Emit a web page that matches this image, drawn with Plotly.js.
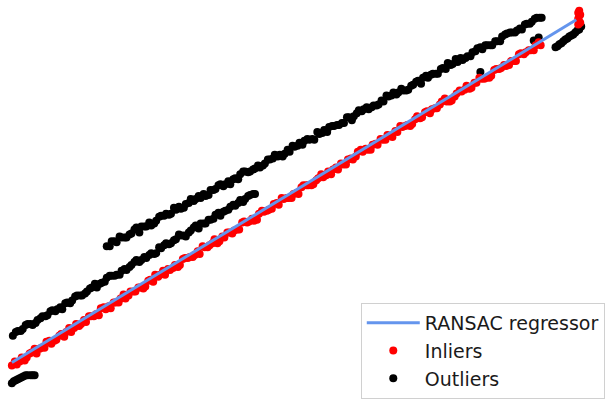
<!DOCTYPE html>
<html>
<head>
<meta charset="utf-8">
<script src="https://cdn.plot.ly/plotly-3.0.1.min.js"></script>
<style>html,body{margin:0;padding:0;background:#fff;}#chart{width:605px;height:399px;}</style>
</head>
<body>
<div id="chart"></div>
<script>
// Inliers (red)
const inlierX = [12,17,22,27,32,37,42,47,52,57,62,67,72,77,82,87,92,97,102,107,112,117,122,127,132,137,142,147,152,157,162,167,172,177,182,187,192,197,202,207,212,217,222,227,232,237,242,247,252,257,262,267,272,277,282,287,292,297,302,307,312,317,322,327,332,337,342,347,352,357,362,367,372,377,382,387,392,397,402,407,412,417,422,427,432,437,442,447,452,457,462,467,472,477,482,487,492,497,502,507,512,517,522,527,532,537,542,547,
15,20,25,30,35,40,45,50,55,60,65,70,75,80,85,90,95,100,105,110,115,120,125,130,135,140,145,150,155,160,165,170,175,180,185,190,195,200,205,210,215,220,225,230,235,240,245,250,255,260,265,270,275,280,285,290,295,300,305,310,315,320,325,330,335,340,345,350,355,360,365,370,375,380,385,390,395,400,405,410,415,420,425,430,435,440,445,450,455,460,465,470,475,480,485,490,495,500,505,510,515,520,525,530,535,540,545,
585,586,585,586,585,586,587,587];
const inlierY = [28,29,36,36,41,40,46,52,50,54,60,62,62,70,70,72,78,80,86,85,86,92,96,96,103,103,107,108,115,120,120,120,125,130,130,137,138,140,141,148,150,156,154,158,163,165,166,174,174,175,182,184,186,192,191,197,198,202,202,211,211,212,218,219,225,227,227,232,237,237,245,245,247,252,252,257,262,260,265,270,272,273,281,280,286,288,289,296,296,297,304,306,312,310,315,319,320,322,329,330,332,337,337,345,346,348,353,353,
32,32,33,40,45,45,46,53,53,58,57,66,66,68,74,78,78,79,87,88,92,92,100,99,103,107,106,114,113,118,124,126,127,128,136,137,138,144,149,148,152,152,159,163,162,166,173,173,177,176,185,185,187,193,198,198,198,203,209,211,211,216,222,221,222,229,233,232,238,240,247,248,247,253,258,257,261,266,271,271,271,278,279,285,284,289,293,299,296,301,307,308,309,315,320,319,320,328,329,333,333,337,344,344,348,348,356,
374,377,380,383,386,388,376,384];

// Outliers (black): upper band, middle band, small groups
const outlierX = [108,113,118,123,128,133,138,143,148,153,158,163,168,173,178,183,188,193,198,203,208,213,218,223,228,233,238,243,248,253,258,263,268,273,278,283,288,293,298,303,308,313,318,323,328,333,338,343,348,353,358,363,368,373,378,383,388,393,398,403,408,413,418,423,428,433,438,443,448,453,458,463,468,473,478,483,488,493,498,503,508,513,518,523,528,533,538,543,548,
111,116,121,126,131,136,141,146,151,156,161,166,171,176,181,186,191,196,201,206,211,216,221,226,231,236,241,246,251,256,261,266,271,276,281,286,291,296,301,306,311,316,321,326,331,336,341,346,351,356,361,366,371,376,381,386,391,396,401,406,411,416,421,426,431,436,441,446,451,456,461,466,471,476,481,486,491,496,501,506,511,516,521,526,531,536,541,546,
13,18,23,28,33,38,43,48,53,58,63,68,73,78,83,88,93,98,103,108,113,118,123,128,133,138,143,148,153,158,163,168,173,178,183,188,193,198,203,208,213,218,223,228,233,238,243,248,253,258,
16,21,26,31,36,41,46,51,56,61,66,71,76,81,86,91,96,101,106,111,116,121,126,131,136,141,146,151,156,161,166,171,176,181,186,191,196,201,206,211,216,221,226,231,236,241,246,251,256,
12,14,16,18,20,22,24,26,28,31,33,35,
562,564,566,568,570,572,574,576,578,580,582,584,586,588,
486,540,545];
const outlierY = [149,154,153,158,158,162,168,169,169,170,175,180,182,182,186,187,192,197,197,198,200,206,207,212,212,212,218,222,225,225,228,229,233,237,242,242,243,245,250,254,256,257,257,263,267,270,271,272,274,280,281,287,288,288,292,293,296,301,305,305,307,308,313,317,320,320,324,324,330,335,334,336,338,342,346,350,349,353,353,357,362,365,366,368,369,375,377,381,381,
149,154,159,158,161,166,163,169,173,172,179,180,181,188,189,188,193,195,200,202,201,206,211,210,215,217,217,225,224,227,231,231,237,238,240,240,247,251,251,252,258,258,265,264,265,271,272,274,280,277,284,286,290,290,292,297,302,302,303,309,307,312,316,314,322,323,324,329,329,333,339,340,340,342,347,351,353,353,357,357,364,366,366,370,374,375,380,381,
58,63,65,70,69,74,78,79,84,85,85,92,94,99,99,103,107,107,112,117,119,120,124,125,130,135,135,137,142,142,147,152,152,156,160,159,165,170,172,172,176,181,180,185,189,190,196,197,201,202,
62,63,69,70,71,76,78,83,83,87,91,91,98,99,101,106,111,111,113,119,119,120,126,128,133,133,138,140,141,148,150,151,155,161,160,163,168,167,172,176,177,183,184,186,191,193,194,200,202,
10,12,13,14,15,16,17,18,18,18,18,18,
351,352,354,355,357,359,360,362,363,364,366,368,369,372,
326,358,361];

// RANSAC fitted line
const lineX = [12, 583];
const lineY = [31, 379];

const traces = [
  {x: outlierX, y: outlierY, type: 'scatter', mode: 'markers', name: 'Outliers',
   marker: {color: '#000000', size: 8}, legendrank: 3},
  {x: inlierX, y: inlierY, type: 'scatter', mode: 'markers', name: 'Inliers',
   marker: {color: '#ff0000', size: 8}, legendrank: 2},
  {x: lineX, y: lineY, type: 'scatter', mode: 'lines', name: 'RANSAC regressor',
   line: {color: '#6495ED', width: 3}, legendrank: 1}
];

const layout = {
  width: 605, height: 399,
  margin: {l: 0, r: 0, t: 0, b: 0},
  paper_bgcolor: '#ffffff', plot_bgcolor: '#ffffff',
  xaxis: {range: [0, 605], visible: false, fixedrange: true},
  yaxis: {range: [0, 399], visible: false, fixedrange: true},
  showlegend: true,
  legend: {
    x: 365/605, y: 1 - 308/399, xanchor: 'left', yanchor: 'top',
    bgcolor: 'rgba(255,255,255,0.8)', bordercolor: '#d0d0d0', borderwidth: 1,
    font: {family: 'DejaVu Sans', size: 19, color: '#1a1a1a'},
    itemwidth: 53
  }
};

Plotly.newPlot('chart', traces, layout, {displayModeBar: false, staticPlot: true});
</script>
</body>
</html>
